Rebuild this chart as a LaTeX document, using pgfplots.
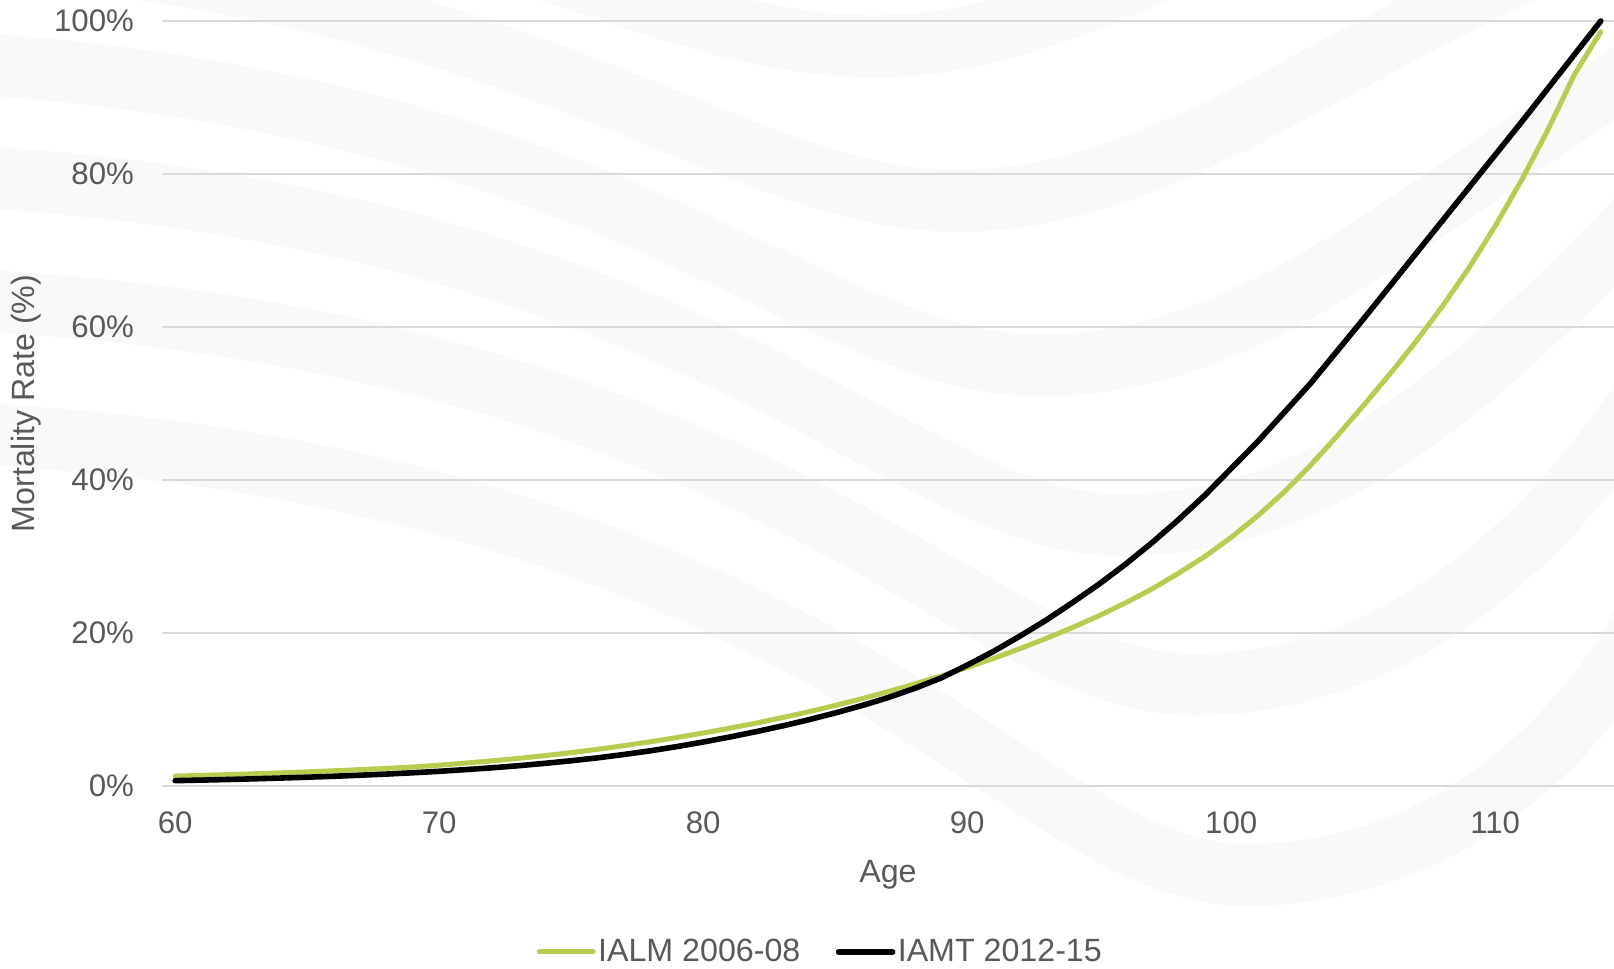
\documentclass[border=0pt]{standalone}
\usepackage{fontspec}
\setmainfont{Liberation Sans}
\usepackage{pgfplots}
\pgfplotsset{compat=1.18}
\usepackage{pgfplotstable}

\definecolor{ialm}{RGB}{183,205,80}
\definecolor{txt}{RGB}{89,89,89}
\definecolor{gridc}{RGB}{217,217,217}
\definecolor{wave}{RGB}{249,249,249}

% Mortality rates (%) by age
\pgfplotstableread{
age ialm  iamt
60  1.30  0.70
61  1.39  0.77
62  1.49  0.85
63  1.60  0.94
64  1.72  1.04
65  1.85  1.15
66  1.99  1.27
67  2.14  1.41
68  2.30  1.56
69  2.48  1.73
70  2.72  1.92
71  2.99  2.14
72  3.29  2.38
73  3.61  2.65
74  3.97  2.96
75  4.36  3.30
76  4.80  3.68
77  5.27  4.12
78  5.78  4.60
79  6.33  5.15
80  6.92  5.75
81  7.55  6.40
82  8.22  7.10
83  8.94  7.85
84  9.71  8.66
85  10.53 9.55
86  11.40 10.50
87  12.33 11.55
88  13.32 12.75
89  14.37 14.10
90  15.49 15.80
91  16.68 17.60
92  17.95 19.60
93  19.30 21.70
94  20.74 24.00
95  22.27 26.40
96  23.95 29.00
97  25.75 31.80
98  27.80 34.80
99  30.00 38.00
100 32.50 41.50
101 35.30 45.00
102 38.40 48.80
103 41.90 52.60
104 45.70 56.80
105 49.70 61.00
106 53.80 65.30
107 58.10 69.60
108 62.70 73.90
109 67.70 78.20
110 73.20 82.50
111 79.20 86.80
112 85.80 91.20
113 93.00 95.60
114 98.60 100.00
}\mortality

\begin{document}
\begin{tikzpicture}
\path[use as bounding box] (0,0) rectangle (807pt,484.5pt);

% faint decorative waves in the background
\begin{scope}[shift={(0,484.5pt)}, x=0.5147pt, y=-0.5147pt]
  \clip (0,0) rectangle (1568,941);
  \foreach \yl/\xt/\yt/\yr in {-150/850/45/-200, -50/930/195/-100, 60/1010/355/30, 170/1090/510/150, 290/1160/665/300, 420/1210/850/480} {
    \draw[wave, line width=31pt]
      (-50,\yl) .. controls (\xt-400,\yl+40) and (\xt-220,\yt) .. (\xt,\yt)
      .. controls (\xt+220,\yt) and (\xt+380,\yt-170) .. (1650,\yr);
  }
\end{scope}

\begin{axis}[
  at={(81pt,91.5pt)}, anchor=south west,
  scale only axis, width=726pt, height=382.5pt,
  xmin=59.5, xmax=114.5, ymin=0, ymax=100,
  enlargelimits=false, clip=false,
  xtick={60,70,...,110}, ytick={0,20,...,100},
  yticklabel={\pgfmathprintnumber{\tick}\%},
  /pgf/number format/assume math mode=true,
  axis line style={draw=none},
  major tick length=0pt,
  ymajorgrids, grid style={gridc, line width=0.8pt},
  tick label style={font=\fontsize{15.6}{18}\selectfont, text=txt},
  yticklabel style={xshift=-10.5pt},
  xticklabel style={yshift=-9.5pt},
  xlabel={Age}, ylabel={Mortality Rate (\%)},
  label style={font=\fontsize{16.1}{19}\selectfont, text=txt},
  xlabel style={at={(axis description cs:0.5,-0.1163)}, anchor=center},
  ylabel style={at={(axis description cs:-0.0937,0.5)}, anchor=center},
  legend columns=2,
  legend style={at={(axis description cs:0.4535,-0.217)}, anchor=center,
    draw=none, fill=none, inner sep=0pt,
    font=\fontsize{16.1}{19}\selectfont, text=txt,
    /tikz/every even column/.append style={column sep=16.5pt},
    nodes={inner xsep=1.2pt}},
  legend image code/.code={\draw[#1] (0pt,0pt) -- (27pt,0pt);},
]
\addplot[ialm, line width=2.5pt, line cap=round, line join=round]
  table[x=age, y=ialm]{\mortality};
\addlegendentry{IALM 2006-08}
\addplot[black, line width=2.8pt, line cap=round, line join=round]
  table[x=age, y=iamt]{\mortality};
\addlegendentry{IAMT 2012-15}
\end{axis}
\end{tikzpicture}
\end{document}
